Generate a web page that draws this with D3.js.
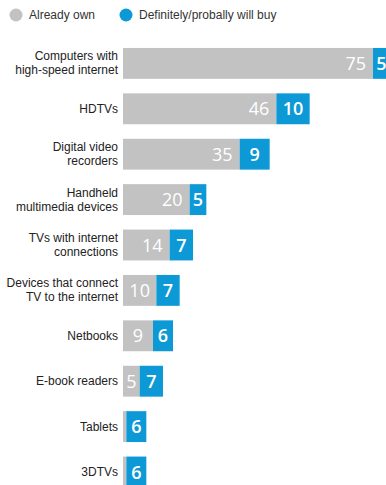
<!DOCTYPE html>
<html>
<head>
<meta charset="utf-8">
<script src="https://cdn.jsdelivr.net/npm/d3@7/dist/d3.min.js"></script>
<style>
  body { margin: 0; background: #fff; }
  svg { display: block; }
</style>
</head>
<body>
<div id="chart"></div>
<script>
// Data
var categories = [
  ["Computers with", "high-speed internet"],
  ["HDTVs"],
  ["Digital video", "recorders"],
  ["Handheld", "multimedia devices"],
  ["TVs with internet", "connections"],
  ["Devices that connect", "TV to the internet"],
  ["Netbooks"],
  ["E-book readers"],
  ["Tablets"],
  ["3DTVs"]
];
var alreadyOwn = [75, 46, 35, 20, 14, 10, 9, 5, 1, 1];
var willBuy    = [5, 10, 9, 5, 7, 7, 6, 7, 6, 6];
var legendLabels = ["Already own", "Definitely/probally will buy"];

var width = 386, height = 485,
    grey = "#c2c2c2", blue = "#0c99d6",
    labelFont = "'Liberation Sans Narrow', 'Liberation Sans', sans-serif";

var svg = d3.select("#chart").append("svg")
  .attr("width", width)
  .attr("height", height);

var rows = categories.map(function(c, i) {
  return { name: c.join(" "), lines: c, own: alreadyOwn[i], buy: willBuy[i] };
});

var y = d3.scaleBand()
  .domain(rows.map(function(d) { return d.name; }))
  .range([40.7, 494.7])
  .paddingInner(0.32)
  .paddingOuter(0.16);

var x = d3.scaleLinear()
  .domain([0, 75])
  .range([123, 373]);

// legend
var legend = svg.append("g").attr("class", "legend");
var legendX = [16, 126];
legendLabels.forEach(function(t, i) {
  legend.append("circle")
    .attr("cx", legendX[i]).attr("cy", 15).attr("r", 6.5)
    .style("fill", i === 0 ? grey : blue);
  legend.append("text")
    .attr("x", legendX[i] + 13).attr("y", 19)
    .style("font-family", labelFont)
    .style("font-size", "12px")
    .style("fill", "#333")
    .text(t);
});

var row = svg.append("g").selectAll("g")
  .data(rows)
  .enter()
  .append("g");

// category labels
row.append("text")
  .attr("text-anchor", "end")
  .style("font-family", labelFont)
  .style("font-size", "12px")
  .style("fill", "#222")
  .each(function(d) {
    var cy = y(d.name) + y.bandwidth() / 2,
        lh = 14,
        y0 = cy - (d.lines.length - 1) * lh / 2 + 4;
    var t = d3.select(this);
    d.lines.forEach(function(l, i) {
      t.append("tspan").attr("x", 118).attr("y", y0 + i * lh).text(l);
    });
  });

// already own bars
row.append("rect")
  .attr("x", x(0))
  .attr("y", function(d) { return y(d.name); })
  .attr("width", function(d) { return x(d.own) - x(0); })
  .attr("height", y.bandwidth())
  .style("fill", grey);

// will buy bars
row.append("rect")
  .attr("x", function(d) { return x(d.own); })
  .attr("y", function(d) { return y(d.name); })
  .attr("width", function(d) { return x(d.buy) - x(0); })
  .attr("height", y.bandwidth())
  .style("fill", blue);

// value labels
row.filter(function(d) { return d.own >= 5; })
  .append("text")
  .attr("x", function(d) {
    var w = x(d.own) - x(0);
    return w > 40 ? x(d.own) - 7 : x(0) + w / 2;
  })
  .attr("y", function(d) { return y(d.name) + y.bandwidth() / 2 + 6.5; })
  .attr("text-anchor", function(d) { return x(d.own) - x(0) > 40 ? "end" : "middle"; })
  .style("font-family", "'Open Sans', sans-serif")
  .style("font-size", "18px")
  .style("fill", "#fff")
  .text(function(d) { return d.own; });

row.append("text")
  .attr("x", function(d) { return x(d.own) + (x(d.buy) - x(0)) / 2; })
  .attr("y", function(d) { return y(d.name) + y.bandwidth() / 2 + 6.5; })
  .attr("text-anchor", "middle")
  .style("font-family", "'Open Sans', sans-serif")
  .style("font-size", "18px")
  .style("font-weight", "600")
  .style("fill", "#fff")
  .text(function(d) { return d.buy; });
</script>
</body>
</html>
